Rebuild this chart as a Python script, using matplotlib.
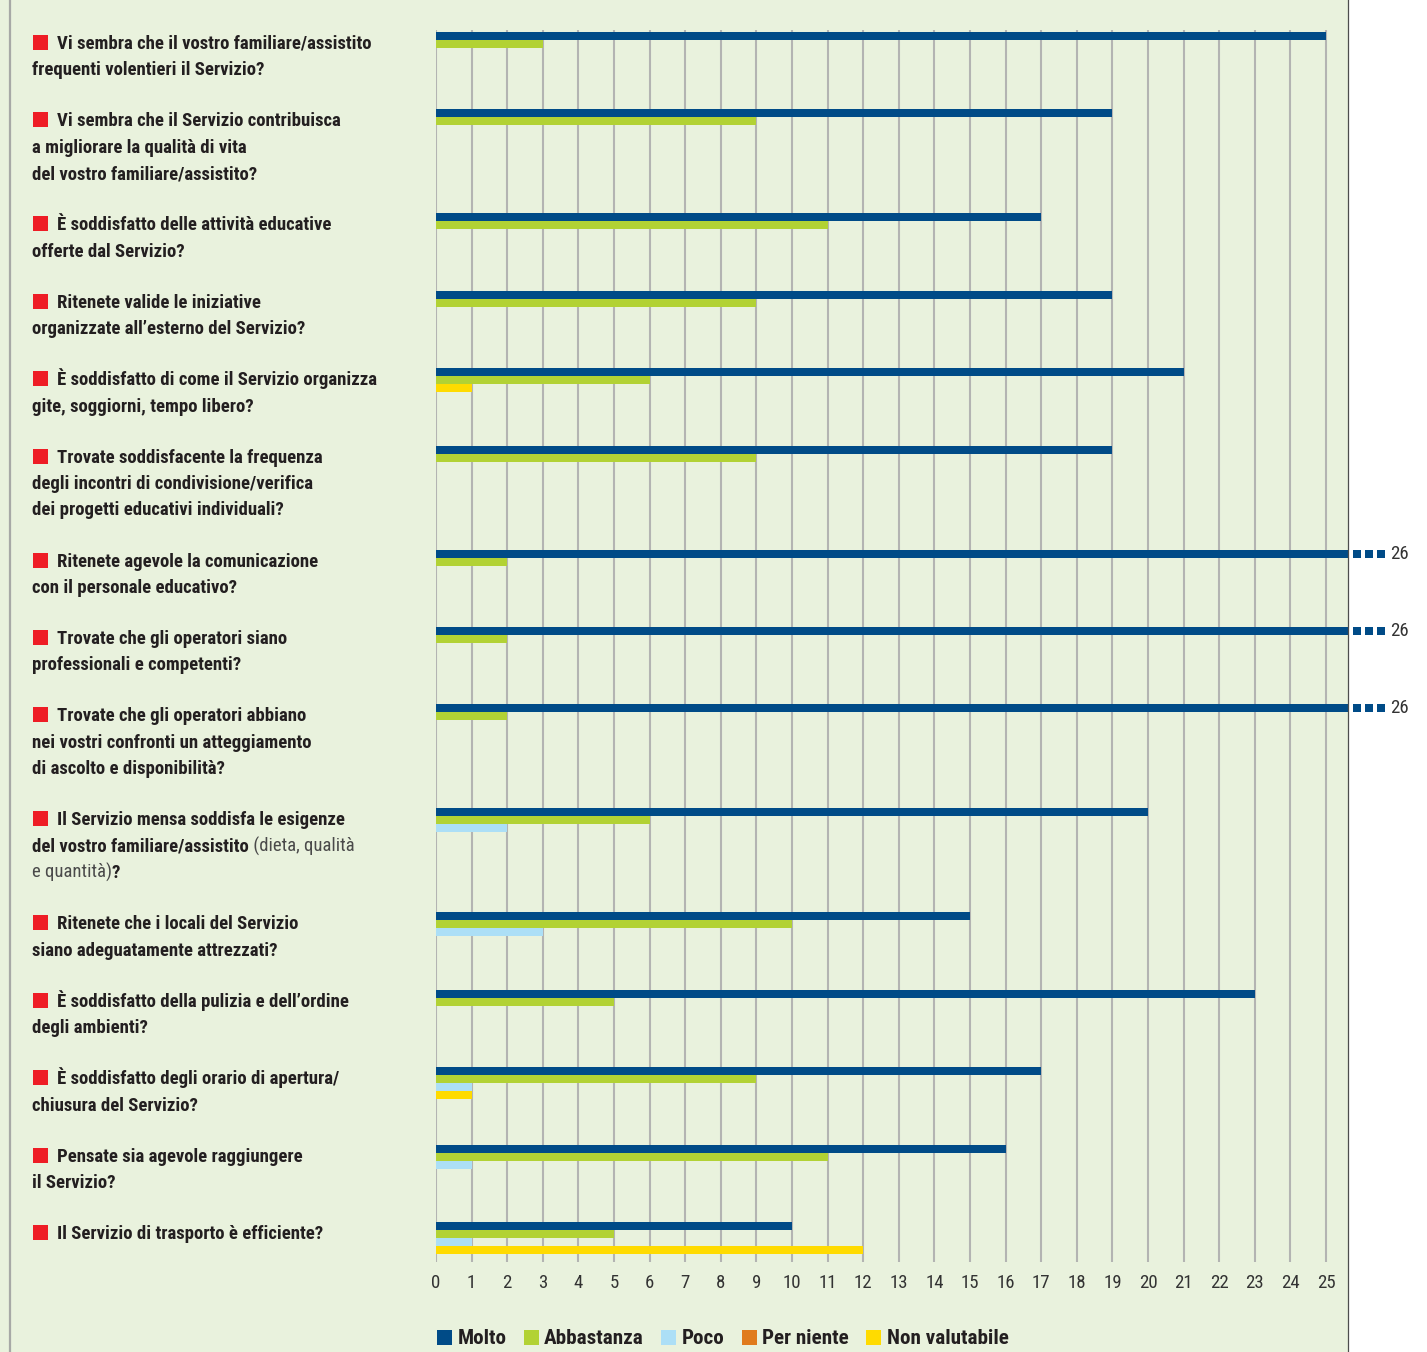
import matplotlib
matplotlib.use("Agg")
import matplotlib.pyplot as plt
from matplotlib.patches import Patch, Rectangle
from matplotlib.lines import Line2D

# -------------------------------
# Data
# -------------------------------
questions = [
    ["Vi sembra che il vostro familiare/assistito", "frequenti volentieri il Servizio?"],
    ["Vi sembra che il Servizio contribuisca", "a migliorare la qualità di vita",
     "del vostro familiare/assistito?"],
    ["È soddisfatto delle attività educative", "offerte dal Servizio?"],
    ["Ritenete valide le iniziative", "organizzate all’esterno del Servizio?"],
    ["È soddisfatto di come il Servizio organizza", "gite, soggiorni, tempo libero?"],
    ["Trovate soddisfacente la frequenza", "degli incontri di condivisione/verifica",
     "dei progetti educativi individuali?"],
    ["Ritenete agevole la comunicazione", "con il personale educativo?"],
    ["Trovate che gli operatori siano", "professionali e competenti?"],
    ["Trovate che gli operatori abbiano", "nei vostri confronti un atteggiamento",
     "di ascolto e disponibilità?"],
    # text between ~ is drawn in regular weight
    ["Il Servizio mensa soddisfa le esigenze", "del vostro familiare/assistito~ (dieta, qualità~",
     "~e quantità)~?"],
    ["Ritenete che i locali del Servizio", "siano adeguatamente attrezzati?"],
    ["È soddisfatto della pulizia e dell’ordine", "degli ambienti?"],
    ["È soddisfatto degli orario di apertura/", "chiusura del Servizio?"],
    ["Pensate sia agevole raggiungere", "il Servizio?"],
    ["Il Servizio di trasporto è efficiente?"],
]

series_names = ["Molto", "Abbastanza", "Poco", "Per niente", "Non valutabile"]
molto = [25, 19, 17, 19, 21, 19, 26, 26, 26, 20, 15, 23, 17, 16, 10]
abbastanza = [3, 9, 11, 9, 6, 9, 2, 2, 2, 6, 10, 5, 9, 11, 5]
poco = [0, 0, 0, 0, 0, 0, 0, 0, 0, 2, 3, 0, 1, 1, 1]
per_niente = [0, 0, 0, 0, 0, 0, 0, 0, 0, 0, 0, 0, 0, 0, 0]
non_valutabile = [0, 0, 0, 0, 1, 0, 0, 0, 0, 0, 0, 0, 1, 0, 12]
x_ticks = list(range(0, 26))

# -------------------------------
# Style
# -------------------------------
colors = ["#004b87", "#b2d234", "#acdff6", "#e07b1c", "#ffdb00"]
BG = "#e9f2dd"
RED = "#ee1d25"
TXT = "#231f20"
COND = ["Roboto Condensed", "DejaVu Sans"]

W, H, DPI = 1427, 1352, 100
AX_L, AX_R, AX_T, AX_B = 436, 1348, 30, 1262
PX_PER_UNIT = 35.6

fig = plt.figure(figsize=(W / DPI, H / DPI), dpi=DPI, facecolor="white")
renderer = fig.canvas.get_renderer()


def fit_size(text, weight, target_px):
    """Font size (pt) at which `text` spans about `target_px` pixels."""
    t = fig.text(0, 0, text, fontfamily=COND, fontweight=weight, fontsize=10)
    w = t.get_window_extent(renderer).width
    t.remove()
    return 10 * target_px / w


LABEL_FS = fit_size("Vi sembra che il vostro familiare/assistito", "bold", 316)
LEGEND_FS = fit_size("Non valutabile", "bold", 121)
TICK_FS = fit_size("24", "normal", 18.5)

fig.patches.append(Rectangle((0, 0), AX_R / W, 1, transform=fig.transFigure,
                             facecolor=BG, edgecolor="none", zorder=-10))
fig.lines.append(Line2D([10 / W, 10 / W], [0, 1], transform=fig.transFigure,
                        color="#a7a9a6", lw=1.6))
fig.lines.append(Line2D([AX_R / W, AX_R / W], [0, 1], transform=fig.transFigure,
                        color="#4d4d4d", lw=0.9))

ax = fig.add_axes([AX_L / W, 1 - AX_B / H, (AX_R - AX_L) / W, (AX_B - AX_T) / H])
ax.set_facecolor("none")
xmax = (AX_R - AX_L) / PX_PER_UNIT
ax.set_xlim(0, xmax)
ax.set_ylim(AX_B, AX_T)
for s in ax.spines.values():
    s.set_visible(False)
ax.set_yticks([])
ax.set_xticks(x_ticks)
ax.set_xticklabels([str(t) for t in x_ticks], fontfamily=COND, fontsize=TICK_FS, color="#333333")
ax.tick_params(axis="x", length=0, pad=9)
ax.xaxis.grid(True, color="#b3b4b2", lw=1.5)
ax.set_axisbelow(True)

# vertical layout derived from the number of label lines
LINE_PITCH = 26.4
BAR_H = 8
all_series = [molto, abbastanza, poco, per_niente, non_valutabile]

baseline = 49.0
for i, lines in enumerate(questions):
    # label text
    for j, line in enumerate(lines):
        y = baseline + j * LINE_PITCH
        x = 57 if j == 0 else 32
        parts = line.split("~")
        for k, part in enumerate(parts):
            if not part:
                continue
            t = fig.text(x / W, 1 - y / H, part, fontfamily=COND, fontsize=LABEL_FS,
                         fontweight="bold" if k % 2 == 0 else "normal",
                         color=TXT if k % 2 == 0 else "#4a4a4a", va="baseline", ha="left")
            x = t.get_window_extent(renderer).x1
    fig.patches.append(Rectangle((33 / W, 1 - (baseline - 14) / H), 15 / W, -15 / H,
                                 transform=fig.transFigure, facecolor=RED,
                                 edgecolor="none"))

    # bars, packed: empty categories take no slot
    top = baseline - 17
    slot = 0
    for vals, c in zip(all_series, colors):
        v = vals[i]
        if v == 0:
            continue
        yc = top + slot * BAR_H + BAR_H / 2
        ax.barh(yc, v, height=BAR_H, color=c, edgecolor="none", zorder=3)
        if v > xmax:
            ax.plot([(1353 - AX_L) / PX_PER_UNIT, (1386 - AX_L) / PX_PER_UNIT], [yc, yc],
                    color=c, lw=BAR_H * 72 / DPI, ls=(0, (1, 0.5)),
                    dash_capstyle="butt", clip_on=False)
            ax.text((1390 - AX_L) / PX_PER_UNIT, yc, str(v), fontfamily=COND,
                    fontsize=TICK_FS, color="#333333", va="center", ha="left",
                    clip_on=False)
        slot += 1

    nlines = max(len(lines), 2)
    baseline += nlines * 26 + (25.4 if nlines == 2 else 26)

handles = [Patch(facecolor=c, edgecolor="none", label=n) for n, c in zip(series_names, colors)]
fig.legend(handles=handles, ncol=5, loc="center left",
           bbox_to_anchor=(437 / W, 1 - 1339 / H), frameon=False,
           prop={"family": COND, "weight": "bold", "size": LEGEND_FS},
           handlelength=0.72, handleheight=0.72, handletextpad=0.25,
           columnspacing=0.82, borderpad=0, borderaxespad=0, labelcolor=TXT)

fig.savefig("out.png", dpi=DPI, facecolor="white")
